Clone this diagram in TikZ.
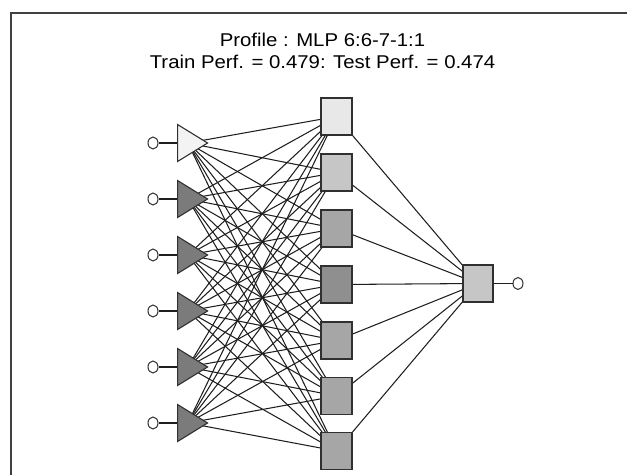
\documentclass[tikz,border=0pt]{standalone}
\usepackage{fontspec}
\setmainfont[FakeStretch=1.1]{Liberation Sans}
\usetikzlibrary{shapes.geometric,backgrounds}
\definecolor{triL}{HTML}{F3F3F3}
\definecolor{triD}{HTML}{7B7B7B}
\definecolor{hA}{HTML}{E8E8E8}
\definecolor{hB}{HTML}{C6C6C6}
\definecolor{hC}{HTML}{A6A6A6}
\definecolor{hD}{HTML}{8F8F8F}
\definecolor{edge}{HTML}{1E1E1E}
\definecolor{rim}{HTML}{303030}
\begin{document}
\begin{tikzpicture}[x=1pt,y=-1pt,
  conn/.style={draw=edge, line width=1.05pt},
  inp/.style={ellipse, draw=rim, fill=white, line width=1pt, minimum width=10pt, minimum height=12pt, inner sep=0pt},
  tri/.style={isosceles triangle, isosceles triangle stretches, shape border rotate=0, draw=rim, line width=1.1pt, minimum width=37pt, minimum height=30pt, inner sep=0pt, anchor=apex},
  sq/.style={rectangle, draw=rim, line width=1.1pt, minimum width=31pt, minimum height=37pt, inner sep=0pt},
  ttl/.style={font=\fontsize{18.5}{22}\selectfont, anchor=base, inner sep=0pt}]
\useasboundingbox (0,0) rectangle (627,475);
\draw[line width=1.5pt, black!75] (11,475) -- (11,13) -- (627,13);
\node[ttl] (t1) at (322.5,46) {Profile : MLP 6:6-7-1:1};
\node[ttl] (t2) at (322.5,68) {Train Perf. = 0.479: Test Perf. = 0.474};
% inputs
\foreach \i/\y/\c in {1/143/triL,2/199/triD,3/255/triD,4/311/triD,5/367/triD,6/423/triD}{
  \node[inp] (c\i) at (153,\y) {};
  \node[tri, fill=\c] (i\i) at (209,\y) {};
  \draw[conn] (c\i.east) -- (i\i.lower side);
}
% hidden
\foreach \j/\y/\c in {1/116.5/hA,2/172.5/hB,3/228.5/hC,4/284.5/hD,5/340.5/hC,6/396/hC,7/451/hC}{
  \node[sq, fill=\c] (h\j) at (336.5,\y) {};
}
\node[sq, fill=hB, minimum width=30pt] (o) at (478,283.5) {};
\node[inp] (oc) at (518,283.5) {};
\draw[conn] (o.east) -- (oc.west);
\begin{scope}[on background layer]
  \foreach \i in {1,...,6}{
    \foreach \j in {1,...,7}{
      \draw[conn] (i\i.center) -- (h\j.center);
    }
  }
  \foreach \j in {1,...,7}{
    \draw[conn] (h\j.center) -- (o.center);
  }
\end{scope}
\end{tikzpicture}
\end{document}
